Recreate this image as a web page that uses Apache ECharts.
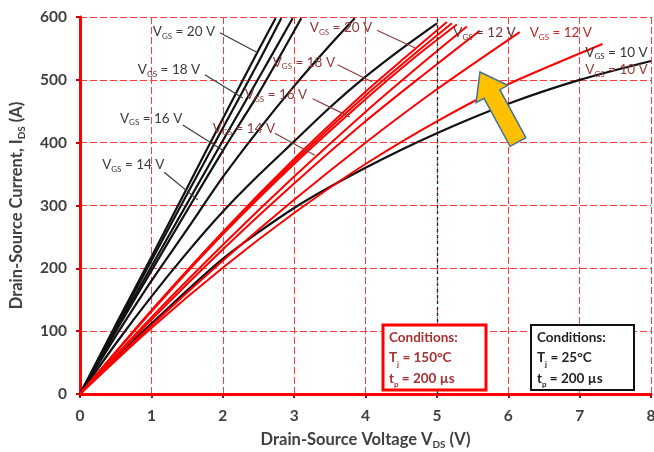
<!DOCTYPE html>
<html><head><meta charset="utf-8">
<script src="https://cdn.jsdelivr.net/npm/echarts@6/dist/echarts.min.js"></script>
<style>html,body{margin:0;padding:0;background:#fff}#c{width:654px;height:452px}</style>
</head><body><div id="c"></div>
<script>
// ---- Data: Drain current (A) vs drain-source voltage (V) ----
// Tj = 25 °C (black)
const b25_20 = [[0,0],[0.5,110],[1,218],[1.5,328],[2,438],[2.5,547],[2.74,598]];
const b25_18 = [[0,0],[0.5,106],[1,212],[1.5,318],[2,423],[2.5,528],[2.82,598]];
const b25_16 = [[0,0],[0.5,102],[1,203],[1.5,303],[2,403],[2.5,502],[2.98,598]];
const b25_14 = [[0,0],[0.5,99],[1,196],[1.5,292],[2,387],[2.5,478],[3.1,598]];
const b25_13 = [[0,0],[0.5,92],[1,180],[1.5,262],[2,345],[2.5,420],[3,490],[3.5,555],[3.85,598]];
const b25_12 = [[0,0],[0.5,80],[1,155],[1.5,225],[2,290],[2.5,348],[3,402],[3.5,456],[4,505],[4.5,549],[5,590]];
const b25_10 = [[0,0],[0.5,58],[1,112],[2,215],[3,296],[4,360],[5,415],[6,462],[7,500],[8,530]];
// Tj = 150 °C (red)
const r150_20 = [[0,0],[1,133],[2,258],[3,374],[4,481],[4.55,535],[5.14,592]];
const r150_18 = [[0,0],[1,132],[2,256],[3,370],[4,475],[4.6,533],[5.21,590]];
const r150_16 = [[0,0],[1,131],[2,254],[3,366],[4,469],[4.65,532],[5.28,588]];
const r150_14 = [[0,0],[1,122],[2,237],[3,346],[4,449],[4.75,522],[5.42,585]];
const r150_13 = [[0,0],[1,118],[2,230],[3,335],[4,434],[4.8,507],[5.6,578]];
const r150_12 = [[0,0],[1,109],[2,212],[3,309],[4,400],[5,485],[6.16,576]];
const r150_10 = [[0,0],[1,105],[2,201],[3,288],[4,366],[5,434],[6,493],[7.32,557]];

const xTicks = [0,1,2,3,4,5,6,7,8];
const yTicks = [0,100,200,300,400,500,600];

const blackCurves = [b25_20,b25_18,b25_16,b25_14,b25_13,b25_12,b25_10];
const redCurves = [r150_20,r150_18,r150_16,r150_14,r150_13,r150_12,r150_10];

const FONT = 'Lato, "Open Sans", sans-serif';
const chart = echarts.init(document.getElementById('c'), null, {renderer:'canvas'});

const series = [];
blackCurves.forEach((d,i)=>series.push({
  type:'line', data:d, showSymbol:false, smooth:0.25, z:3,
  lineStyle:{color:'#111', width:2.2}, silent:true,
  markLine: i===0 ? {symbol:'none', silent:true, label:{show:false},
    lineStyle:{color:'#222', type:[3,3], width:1.3}, data:[{xAxis:5}]} : undefined
}));
redCurves.forEach(d=>series.push({
  type:'line', data:d, showSymbol:false, smooth:0.25, z:4,
  lineStyle:{color:'#ff0000', width:2}, silent:true
}));

const gridDash = {color:'#ff3b3b', type:[7,3], width:1};
const titleRich = {
  a:{fontSize:16.5, fontWeight:'bold', color:'#404040', fontFamily:FONT, lineHeight:20, verticalAlign:'middle'},
  b:{fontSize:10, fontWeight:'bold', color:'#404040', fontFamily:FONT, lineHeight:20, verticalAlign:'bottom'}};
chart.setOption({
  animation:false,
  backgroundColor:'#fff',
  grid:{left:80, right:3, top:17, bottom:58, containLabel:false, outerBoundsMode:'none'},
  xAxis:{type:'value', min:0, max:8, interval:1,
    axisLine:{lineStyle:{color:'#ff0000', width:3}},
    axisTick:{show:true, length:4, lineStyle:{color:'#cc0000', width:2}},
    axisLabel:{color:'#404040', fontWeight:'bold', fontSize:15.5, fontFamily:FONT, margin:14,
      formatter:v=>xTicks.includes(v)?String(v):''},
    splitLine:{show:true, lineStyle:gridDash},
    name:'{a|Drain-Source Voltage V}{b|DS}{a| (V)}', nameLocation:'middle', nameGap:36,
    nameTextStyle:{rich:titleRich}
  },
  yAxis:{type:'value', min:0, max:600, interval:100,
    axisLine:{show:true, lineStyle:{color:'#ff0000', width:3}},
    axisTick:{show:true, length:4, lineStyle:{color:'#cc0000', width:2}},
    axisLabel:{color:'#404040', fontWeight:'bold', fontSize:15.5, fontFamily:FONT, margin:13,
      formatter:v=>yTicks.includes(v)?String(v):''},
    splitLine:{show:true, lineStyle:gridDash},
    name:'{a|Drain-Source Current, I}{b|DS}{a| (A)}', nameLocation:'middle', nameGap:53,
    nameTextStyle:{rich:titleRich}
  },
  series:series
});

// ---- Annotations (data coordinates converted to pixels) ----
const P = (v,i)=>chart.convertToPixel({gridIndex:0},[v,i]);
function vgsText(v,i,val,color){
  const p = P(v,i);
  return {type:'text', x:p[0], y:p[1], z:20, silent:true,
    style:{text:'{n|V}{s|GS}{n| = '+val+' V}', verticalAlign:'middle', align:'left',
      rich:{n:{fontSize:13.5, fontFamily:FONT, fill:color, color:color, lineHeight:17, verticalAlign:'middle'},
            s:{fontSize:8, fontFamily:FONT, fill:color, color:color, lineHeight:17, verticalAlign:'bottom'}}}};
}
function leader(v1,i1,v2,i2,color){
  const a=P(v1,i1), b=P(v2,i2);
  return {type:'line', z:20, silent:true, shape:{x1:a[0],y1:a[1],x2:b[0],y2:b[1]},
    style:{stroke:color, lineWidth:1.2}};
}
const dk='#3a3a3a', rd='#8c3a3a';
const g = [
  vgsText(1.02,576,20,dk), leader(1.96,575,2.49,543,dk),
  vgsText(0.81,516,18,dk), leader(1.75,508,2.28,471,dk),
  vgsText(0.56,439,16,dk), leader(1.44,428,2.0,388,dk),
  vgsText(0.31,365,14,dk), leader(1.18,353,1.65,309,dk),
  vgsText(3.22,583,20,rd), leader(4.16,579,4.69,551,rd),
  vgsText(2.70,528,18,rd), leader(3.61,524,4.09,497,rd),
  vgsText(2.31,476,16,rd), leader(3.26,470,3.78,441,rd),
  vgsText(1.86,423,14,rd), leader(2.73,415,3.29,380,rd),
  vgsText(5.23,575,12,'#6a3a3a'),
  vgsText(6.30,575,12,'#c02828'),
  vgsText(7.08,544,10,'#333333'),
  vgsText(7.08,516,10,'#9a3a3a')
];
// arrow (decoration)
const ar = [[480,72],[507.7,85.4],[499.8,89.7],[525.9,137.7],[510.1,146.3],[484,98.3],[476.1,102.6]];
g.push({type:'polygon', z:25, silent:true, shape:{points:ar},
  style:{fill:'#FFC000', stroke:'#41719C', lineWidth:1.5}});
// condition boxes
function box(x,y,w,h,stroke,lw,color,tj){
  const rich={n:{fontSize:13.5, fontWeight:'bold', fontFamily:FONT, fill:color, color:color, lineHeight:20.5, verticalAlign:'middle'},
              s:{fontSize:8, fontWeight:'bold', fontFamily:FONT, fill:color, color:color, lineHeight:20.5, verticalAlign:'bottom'}};
  return [{type:'rect', z:30, silent:true, shape:{x:x,y:y,width:w,height:h},
      style:{fill:'#fff', stroke:stroke, lineWidth:lw}},
    {type:'text', z:31, silent:true, x:x+6, y:y+2,
      style:{text:'{n|Conditions:}\n{n|T}{s|j}{n| = '+tj+'°C}\n{n|t}{s|p}{n| = 200 µs}', rich:rich, align:'left', verticalAlign:'top'}}];
}
g.push(...box(383,325,103,65,'#ff0000',3,'#a83030','150'));
g.push(...box(531,325,103,65,'#111',2,'#222','25'));
chart.setOption({graphic:g});
</script></body></html>
